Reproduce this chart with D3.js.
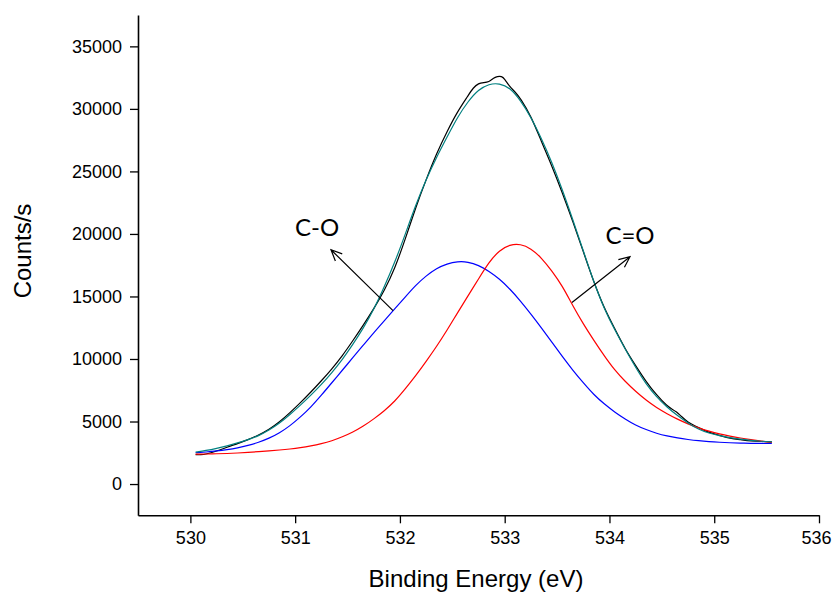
<!DOCTYPE html>
<html>
<head>
<meta charset="utf-8">
<script src="https://cdn.jsdelivr.net/npm/d3@7/dist/d3.min.js"></script>
<style>
  html, body { margin: 0; padding: 0; background: #fff; }
  svg { display: block; }
</style>
</head>
<body>
<svg id="chart" width="833" height="594"></svg>
<script>
// ---------- data ----------
const xTickLabels = [530, 531, 532, 533, 534, 535, 536];
const yTickLabels = [0, 5000, 10000, 15000, 20000, 25000, 30000, 35000];

const fitEnergy = [
  530.05,530.15,530.25,530.35,530.45,530.55,530.65,530.75,530.85,530.95,
  531.05,531.15,531.25,531.35,531.45,531.55,531.65,531.75,531.85,531.95,
  532.05,532.15,532.25,532.35,532.45,532.55,532.65,532.75,532.85,532.95,
  533.05,533.15,533.25,533.35,533.45,533.55,533.65,533.75,533.85,533.95,
  534.05,534.15,534.25,534.35,534.45,534.55,534.65,534.75,534.85,534.95,
  535.05,535.15,535.25,535.35,535.45,535.55
];
// C-O component (blue)
const peakCO = [
  2500,2560,2640,2750,2890,3080,3330,3650,4080,4650,
  5350,6150,7100,8100,9100,10100,11100,12100,13050,14000,
  14950,15900,16650,17250,17620,17800,17770,17500,17020,16400,
  15600,14650,13600,12500,11350,10200,9100,8100,7150,6400,
  5750,5200,4700,4350,4050,3840,3680,3560,3460,3390,
  3340,3300,3275,3258,3248,3240
];
// C=O component (red)
const peakCdO = [
  2390,2400,2420,2440,2480,2530,2590,2650,2720,2800,
  2900,3040,3220,3450,3770,4150,4620,5200,5850,6600,
  7600,8650,9800,11000,12300,13700,15050,16400,17750,18700,
  19150,19200,18850,18100,17050,15850,14250,12800,11500,10250,
  9100,8200,7400,6700,6100,5620,5180,4800,4480,4220,
  4000,3830,3680,3550,3430,3320
];
// cumulative fit envelope (teal)
const envelope = [
  2550,2680,2850,3050,3280,3550,3850,4300,4850,5550,
  6300,7100,7950,8900,9950,11150,12450,13950,15750,17700,
  19950,22300,24350,26150,27750,29350,30600,31550,32000,32050,
  31700,30700,29350,27650,25750,23550,21150,18660,16160,14000,
  12330,10790,9320,7980,6960,6130,5470,4870,4370,4060,
  3860,3700,3580,3490,3420,3370
];
// measured spectrum (black)
const rawEnergy = [
  530.05,530.10,530.15,530.25,530.35,530.45,530.55,530.65,530.75,530.85,530.95,
  531.05,531.15,531.25,531.35,531.45,531.55,531.65,531.75,531.85,531.95,
  532.05,532.15,532.25,532.35,532.45,532.55,532.65,532.70,532.75,532.80,532.85,
  532.89,532.93,532.97,533.00,533.04,533.10,533.15,533.25,533.35,533.45,533.55,
  533.65,533.75,533.85,533.95,534.05,534.15,534.25,534.35,534.45,534.55,534.60,
  534.64,534.68,534.75,534.82,534.88,534.95,535.05,535.15,535.25,535.35,535.45,535.55
];
const rawCounts = [
  2350,2330,2400,2620,2950,3230,3550,3900,4350,4950,5700,
  6500,7350,8250,9200,10250,11450,12700,14000,15450,17200,
  19550,22100,24350,26450,28200,29800,31050,31700,32050,32100,32150,
  32450,32600,32620,32400,31850,31350,30850,29450,27400,25450,23300,
  21000,18600,16160,14050,12430,10790,9470,8180,7110,6230,5980,
  5780,5450,4920,4640,4400,4120,3900,3650,3550,3440,3400,3370
];

// annotation anchors in data units
const annoLabels = ["C-O", "C=O"];
const annoTail  = [[531.934, 13870], [533.642, 14510]];
const annoTip   = [[531.342, 18735], [534.196, 18180]];
const annoText  = [[531.21, 19850], [534.196, 19210]];

// ---------- layout ----------
const svg = d3.select("#chart");
const x = d3.scaleLinear().domain([529.5, 536]).range([138, 819]);
const y = d3.scaleLinear().domain([-2500, 37500]).range([515.3, 15.1]);
const tickFont = "Liberation Sans, Arial, sans-serif";

// minor ticks
const xMinor = d3.range(529.5, 536, 1);
const yMinor = d3.range(-2500, 37501, 5000);

const gx = svg.append("g").attr("transform", `translate(0,${y(-2500)})`);
gx.call(d3.axisBottom(x).tickValues(xMinor).tickSize(4).tickSizeOuter(0).tickFormat(""));
gx.call(d3.axisBottom(x).tickValues(xTickLabels).tickSize(8).tickSizeOuter(0).tickPadding(8).tickFormat(d3.format("d")));

const gy = svg.append("g").attr("transform", `translate(${x(529.5)},0)`);
gy.call(d3.axisLeft(y).tickValues(yMinor).tickSize(4).tickSizeOuter(0).tickFormat(""));
gy.call(d3.axisLeft(y).tickValues(yTickLabels).tickSize(8).tickSizeOuter(0).tickPadding(8).tickFormat(d3.format("d")));

svg.selectAll(".domain").attr("stroke", "#000").attr("stroke-width", 1.6);
svg.selectAll(".tick line").attr("stroke", "#000").attr("stroke-width", 1.3);
svg.selectAll(".tick text").attr("fill", "#000")
  .style("font-family", tickFont).style("font-size", "18px");
// keep the last x label inside the picture
gx.selectAll(".tick text").filter(d => d === 536).attr("x", -3);

// axis titles
svg.append("text")
  .attr("x", 476).attr("y", 587)
  .attr("text-anchor", "middle")
  .style("font-family", tickFont).style("font-size", "24px")
  .text("Binding Energy (eV)");
svg.append("text")
  .attr("transform", "translate(31,251) rotate(-90)")
  .attr("text-anchor", "middle")
  .style("font-family", tickFont).style("font-size", "24px")
  .text("Counts/s");

// ---------- curves ----------
const plot = svg.append("g");
function drawLine(xs, ys, color, curve) {
  const line = d3.line().x((d, i) => x(xs[i])).y(d => y(d)).curve(curve);
  plot.append("path").datum(ys)
    .attr("fill", "none").attr("stroke", color)
    .attr("stroke-width", 1.2).attr("stroke-linejoin", "round")
    .attr("d", line);
}
drawLine(rawEnergy, rawCounts, "#000000", d3.curveBasis);
drawLine(fitEnergy, peakCO, "#0000ff", d3.curveBasis);
drawLine(fitEnergy, peakCdO, "#ff0000", d3.curveBasis);
drawLine(fitEnergy, envelope, "#008080", d3.curveBasis);

// ---------- annotations ----------
annoLabels.forEach((lab, i) => {
  const x1 = x(annoTail[i][0]), y1 = y(annoTail[i][1]);
  const x2 = x(annoTip[i][0]), y2 = y(annoTip[i][1]);
  const ang = Math.atan2(y2 - y1, x2 - x1);
  const L = 12, spread = 0.42;
  const a1 = [x2 - L * Math.cos(ang - spread), y2 - L * Math.sin(ang - spread)];
  const a2 = [x2 - L * Math.cos(ang + spread), y2 - L * Math.sin(ang + spread)];
  svg.append("path")
    .attr("d", `M${x1},${y1}L${x2},${y2}M${a1[0]},${a1[1]}L${x2},${y2}L${a2[0]},${a2[1]}`)
    .attr("fill", "none").attr("stroke", "#000").attr("stroke-width", 1.2);
  svg.append("text")
    .attr("x", x(annoText[i][0])).attr("y", y(annoText[i][1]))
    .attr("text-anchor", "middle")
    .style("font-family", "Lato, 'Open Sans', sans-serif").style("font-size", "24px")
    .attr("fill", "#000")
    .text(lab);
});
</script>
</body>
</html>
